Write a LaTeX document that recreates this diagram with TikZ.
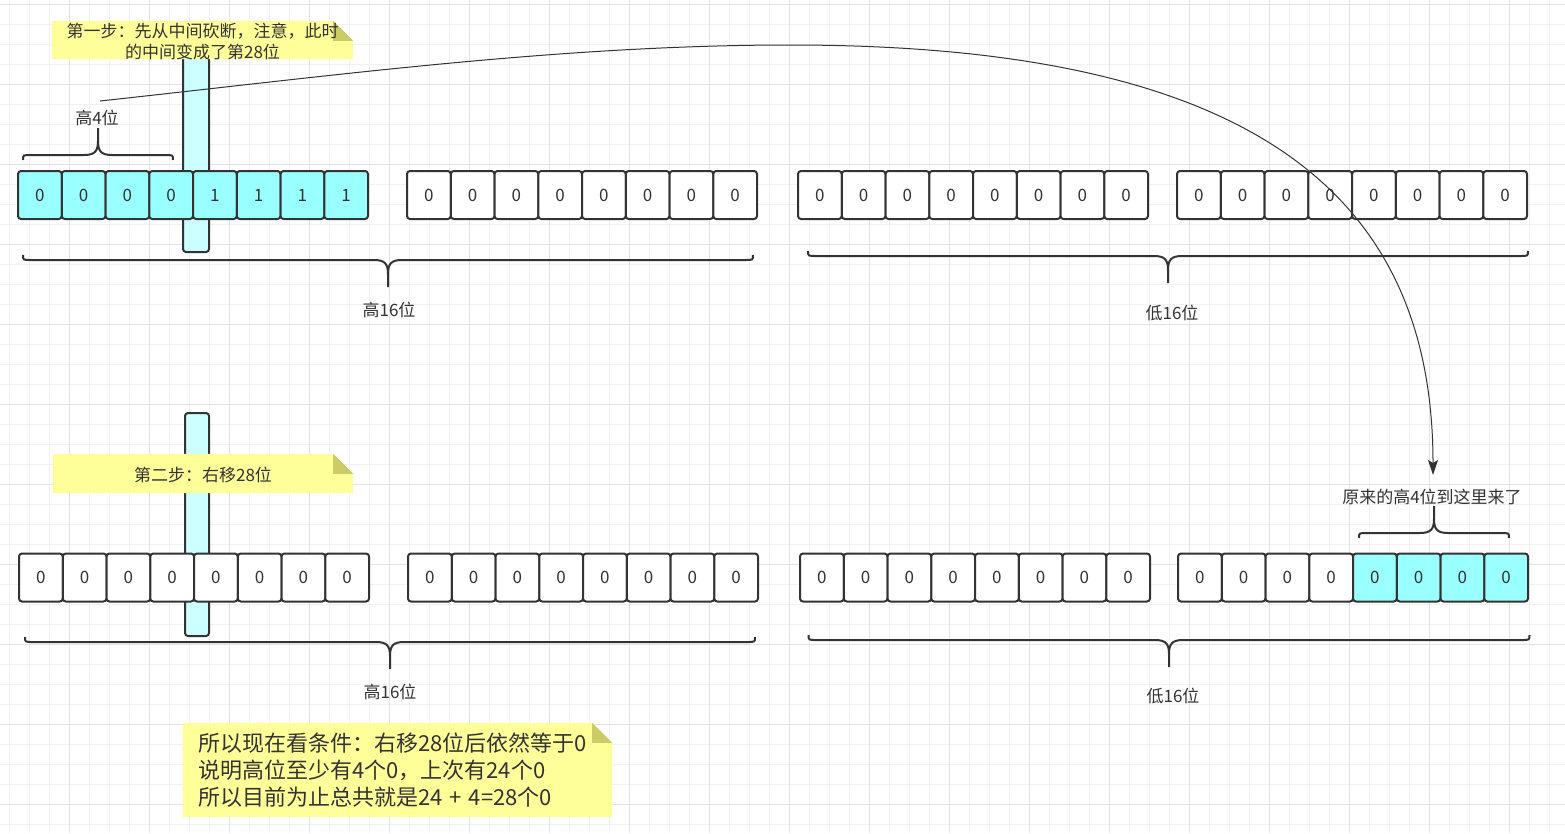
\documentclass[tikz,border=0pt]{standalone}
\usepackage{fontspec}
\setmainfont{Noto Sans CJK SC}
\usetikzlibrary{arrows.meta, positioning}
\definecolor{inkcolor}{HTML}{333333}
\definecolor{bitcolor}{HTML}{99FFFF}
\definecolor{barcolor}{HTML}{CCFFFF}
\definecolor{notecolor}{HTML}{FFFF99}
\definecolor{foldcolor}{HTML}{CCCC66}
\definecolor{gridminor}{HTML}{F1F1F1}
\definecolor{gridmajor}{HTML}{E3E3E3}
\pgfdeclarelayer{gridlayer}
\pgfdeclarelayer{barlayer}
\pgfsetlayers{gridlayer,barlayer,main}

\begin{document}
\begin{tikzpicture}[
    x=1pt, y=-1pt,
    bit/.style={draw=inkcolor, line width=2pt, rounded corners=3pt, fill=#1, text=inkcolor,
        minimum width=43.75pt, minimum height=48pt, inner sep=0pt, font=\fontsize{17}{20}\selectfont},
    bit/.default=white,
    cutbar/.style={draw=inkcolor, line width=2pt, rounded corners=3pt, fill=barcolor, inner sep=0pt},
    stepnote/.style={inner sep=0pt},
    tag/.style={text=inkcolor, inner sep=1pt, font=\fontsize{17}{20}\selectfont},
    bracket/.style={draw=inkcolor, line width=2pt},
    curve/.style={draw=inkcolor, line width=1pt, -{Stealth[length=15pt, width=10pt, inset=3pt]}},
    pics/curly/.style={code={
        \draw[bracket] (-#1,-5) .. controls (-#1,0) .. (-#1+8,0) -- (-14,0)
            .. controls (-3,0) and (0,4) .. (0,14) -- (0,27)
            (0,27) -- (0,14) .. controls (0,4) and (3,0) .. (14,0)
            -- (#1-8,0) .. controls (#1,0) .. (#1,-5);
    }}
]
    \useasboundingbox (0,0) rectangle (1565,833);

    % Grid
    \begin{pgfonlayer}{gridlayer}
        \fill[white] (0,0) rectangle (1565,833);
        \foreach \k in {0,...,77} \draw[gridminor, line width=1pt] (9.5+20*\k,0) -- (9.5+20*\k,833);
        \foreach \k in {0,...,41} \draw[gridminor, line width=1pt] (0,4.5+20*\k) -- (1565,4.5+20*\k);
        \foreach \k in {0,...,18} \draw[gridmajor, line width=1pt] (69.5+80*\k,0) -- (69.5+80*\k,833);
        \foreach \k in {0,...,10} \draw[gridmajor, line width=1pt] (0,4.5+80*\k) -- (1565,4.5+80*\k);
    \end{pgfonlayer}

    % Cut bars
    \begin{pgfonlayer}{barlayer}
        \node[cutbar, minimum width=26pt, minimum height=212pt] (cut1) at (196,146) {};
        \node[cutbar, minimum width=24pt, minimum height=223pt] (cut2) at (197,524.5) {};
    \end{pgfonlayer}

    % Notes
    \node[stepnote, minimum width=301pt, minimum height=38pt] (note1) at (202.5,40) {};
    \node[tag, align=center, font=\fontsize{17}{21}\selectfont] (note1text) at (202.5,42)
        {第一步：先从中间砍断，注意，此时\\的中间变成了第28位};
    \node[stepnote, minimum width=300pt, minimum height=39pt] (note2) at (203,473.5) {};
    \node[tag] (note2text) at (203,475) {第二步：右移28位};
    \node[stepnote, minimum width=429pt, minimum height=94pt] (note3) at (397.5,770) {};
    \node[tag, align=left, anchor=west, font=\fontsize{22}{27}\selectfont] (note3text) at (197,770)
        {所以现在看条件：右移28位后依然等于0\\说明高位至少有4个0，上次有24个0\\所以目前为止总共就是24\hspace{7pt}+\hspace{7pt}4=28个0};

    \begin{pgfonlayer}{barlayer}
        \foreach \n in {note1,note2,note3} {
            \fill[notecolor] (\n.south west) -- (\n.north west) -- ([xshift=-20pt]\n.north east)
                -- ([yshift=-20pt]\n.north east) -- (\n.south east) -- cycle;
            \fill[foldcolor] ([xshift=-20pt]\n.north east) -- ([yshift=-20pt]\n.north east)
                -- ([xshift=-20pt, yshift=-20pt]\n.north east) -- cycle;
        }
    \end{pgfonlayer}

    % Bits, first row
    \foreach \i/\v in {1/0,2/0,3/0,4/0,5/1,6/1,7/1,8/1}
        \node[bit=bitcolor] (t1-\i) at ({18+43.75*\i-21.875},195) {\v};
    \foreach \g/\gx in {2/407, 3/798, 4/1177}
        \foreach \i in {1,...,8}
            \node[bit] (t\g-\i) at ({\gx+43.75*\i-21.875},195) {0};

    % Bits, second row
    \foreach \g/\gx in {1/19, 2/408, 3/800}
        \foreach \i in {1,...,8}
            \node[bit] (b\g-\i) at ({\gx+43.75*\i-21.875},577.5) {0};
    \foreach \i/\c in {1/white,2/white,3/white,4/white,5/bitcolor,6/bitcolor,7/bitcolor,8/bitcolor}
        \node[bit=\c] (b4-\i) at ({1178+43.75*\i-21.875},577.5) {0};

    % Braces
    \pic[yscale=-1] at (98,155) {curly=75};
    \pic at (388,260) {curly=365};
    \pic at (1168,256) {curly=360};
    \pic at (390,642) {curly=365};
    \pic at (1169,640) {curly=360.5};
    \pic[yscale=-1] at (1434,533) {curly=75};

    % Labels
    \node[tag] (hi4) at (97,118) {高4位};
    \node[tag] (hiA) at (389,310) {高16位};
    \node[tag] (loA) at (1172,313) {低16位};
    \node[tag] (hiB) at (390,692) {高16位};
    \node[tag] (loB) at (1173,696) {低16位};
    \node[tag] (moved) at (1432,497) {原来的高4位到这里来了};

    % Move of the high bits
    \coordinate (cutfrom) at (100,101);
    \coordinate (peak) at (790,45);
    \coordinate (cutto) at (1433,475);
    \draw[curve] (cutfrom) .. controls (330,76) and (560,45) .. (peak)
        .. controls (1240,45) and (1433,185) .. (cutto);
\end{tikzpicture}
\end{document}
